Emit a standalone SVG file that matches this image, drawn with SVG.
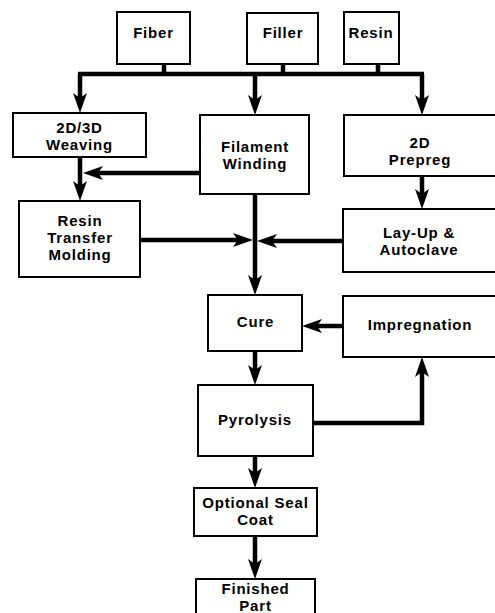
<svg xmlns="http://www.w3.org/2000/svg" width="495" height="613" viewBox="0 0 495 613">
<style>
.box{fill:#fff;stroke:#000;stroke-width:2}
.t{font-family:"Liberation Sans",Arial,Helvetica,sans-serif;font-weight:bold;font-size:15px;letter-spacing:0.8px;text-anchor:middle;fill:#000}
.c{fill:none;stroke:#000;stroke-width:4.5;stroke-linejoin:miter}
.a{marker-end:url(#ah)}
</style>
<defs>
<marker id="ah" markerUnits="userSpaceOnUse" markerWidth="22" markerHeight="16" viewBox="0 -8 22 16" refX="10" refY="0" orient="auto">
<path d="M0,-7 L20,0 L0,7 L5,0 Z" fill="#000"/>
</marker>
</defs>
<rect width="495" height="613" fill="#fff"/>
<g id="connectors">
<path class="c" d="M164,64 V74 M283,64 V74 M378,64 V74 M78,74 H424"/>
<path class="c a" d="M80,74 V103"/>
<path class="c a" d="M255,74 V105"/>
<path class="c a" d="M422,74 V105"/>
<path class="c a" d="M200,173 H93"/>
<path class="c a" d="M80,157 V191"/>
<path class="c a" d="M255,194 V285"/>
<path class="c a" d="M140,240 H243"/>
<path class="c a" d="M343,241 H267"/>
<path class="c a" d="M422,176 V199"/>
<path class="c a" d="M343,326 H312"/>
<path class="c a" d="M255,351 V375"/>
<path class="c a" d="M313,423 H422 V367"/>
<path class="c a" d="M255,456 V478"/>
<path class="c a" d="M255,536 V569"/>
</g>
<g id="fiber"><rect class="box" x="117" y="12" width="73" height="52"/><text class="t" x="153.5" y="38">Fiber</text></g>
<g id="filler"><rect class="box" x="247" y="13" width="71" height="51"/><text class="t" x="283" y="38">Filler</text></g>
<g id="resin"><rect class="box" x="344" y="12" width="55" height="52"/><text class="t" x="371" y="38">Resin</text></g>
<g id="weaving"><rect class="box" x="13" y="113" width="133" height="44"/><text class="t" x="79.5" y="132.5">2D/3D</text><text class="t" x="79.5" y="149.5">Weaving</text></g>
<g id="filament"><rect class="box" x="200" y="115" width="109" height="79"/><text class="t" x="255" y="151.5">Filament</text><text class="t" x="255" y="168.5">Winding</text></g>
<g id="prepreg"><rect class="box" x="344" y="115" width="153" height="61"/><text class="t" x="420" y="148">2D</text><text class="t" x="420" y="165">Prepreg</text></g>
<g id="rtm"><rect class="box" x="19" y="201" width="121" height="76"/><text class="t" x="80" y="226">Resin</text><text class="t" x="80" y="243">Transfer</text><text class="t" x="80" y="260">Molding</text></g>
<g id="layup"><rect class="box" x="343" y="209" width="154" height="63"/><text class="t" x="419" y="237.5">Lay-Up &amp;</text><text class="t" x="419" y="254.5">Autoclave</text></g>
<g id="cure"><rect class="box" x="208" y="295" width="94" height="56"/><text class="t" x="255.5" y="327">Cure</text></g>
<g id="impregnation"><rect class="box" x="343" y="296" width="154" height="61"/><text class="t" x="420" y="330">Impregnation</text></g>
<g id="pyrolysis"><rect class="box" x="198" y="385" width="115" height="71"/><text class="t" x="255" y="425">Pyrolysis</text></g>
<g id="sealcoat"><rect class="box" x="194" y="488" width="123" height="48"/><text class="t" x="255.5" y="508">Optional Seal</text><text class="t" x="255.5" y="525">Coat</text></g>
<g id="finished"><rect class="box" x="196" y="579" width="119" height="40"/><text class="t" x="255.5" y="594">Finished</text><text class="t" x="255.5" y="611">Part</text></g>
</svg>
